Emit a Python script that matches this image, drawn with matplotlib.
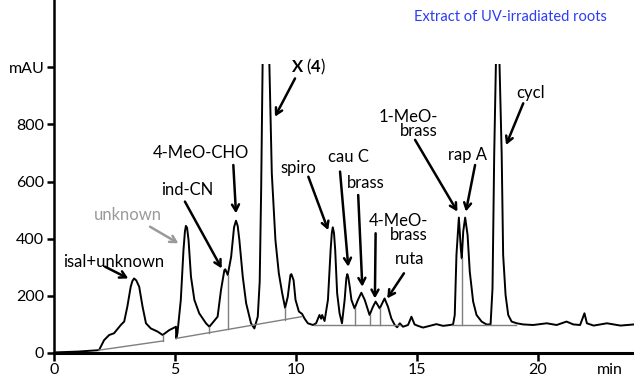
import matplotlib.pyplot as plt
from matplotlib.patches import Rectangle
import numpy as np

# HPLC trace, retention time (min) vs absorbance (mAU)
trace_t = [0.0, 1.0, 1.86, 2.07, 2.28, 2.48, 2.76, 2.90, 3.03, 3.17, 3.24, 3.31, 3.40,
           3.52, 3.66, 3.80, 4.00, 4.28, 4.49, 4.76, 5.04, 5.05, 5.10, 5.24, 5.35, 5.41,
           5.45, 5.50, 5.56, 5.66, 5.80, 6.00, 6.28, 6.42, 6.76, 6.90, 7.04, 7.08, 7.18,
           7.32, 7.44, 7.52, 7.59, 7.66, 7.80, 7.94, 8.14, 8.28, 8.42, 8.50, 8.56, 8.62,
           8.76, 8.90, 9.00, 9.15, 9.29, 9.43, 9.55, 9.66, 9.77, 9.81, 9.90, 9.98, 10.12,
           10.25, 10.35, 10.49, 10.70, 10.83, 10.97, 11.04, 11.08, 11.18, 11.32, 11.43,
           11.48, 11.52, 11.57, 11.62, 11.70, 11.80, 11.90, 12.01, 12.08, 12.12, 12.16,
           12.22, 12.29, 12.42, 12.56, 12.70, 12.84, 13.04, 13.18, 13.29, 13.46, 13.66,
           13.80, 13.94, 14.08, 14.18, 14.29, 14.42, 14.63, 14.77, 14.90, 15.04, 15.25,
           15.53, 15.80, 16.08, 16.36, 16.49, 16.56, 16.63, 16.73, 16.81, 16.85, 16.91,
           16.99, 17.09, 17.18, 17.32, 17.46, 17.67, 17.87, 18.04, 18.12, 18.19, 18.26,
           18.33, 18.41, 18.50, 18.56, 18.66, 18.77, 18.91, 19.12, 19.39, 19.80, 20.36,
           20.77, 21.18, 21.46, 21.74, 21.92, 22.02, 22.30, 22.85, 23.41, 23.97]
trace_mau = [2, 5, 10, 45, 63, 69, 98, 110, 162, 232, 252, 261, 254,
             232, 162, 104, 86, 75, 63, 80, 92, 51, 69, 186, 360, 425,
             445, 438, 395, 267, 186, 139, 104, 92, 127, 220, 290, 293, 273,
             337, 440, 463, 445, 395, 267, 174, 104, 86, 127, 250, 570, 1010,
             1700, 1010, 629, 395, 279, 209, 158, 197, 273, 276, 255, 186, 145,
             137, 121, 104, 98, 104, 133, 120, 133, 112, 186, 360,
             420, 440, 420, 360, 209, 139, 104, 186, 262, 276, 265,
             232, 186, 156, 186, 211, 186, 133, 162, 180, 156, 191,
             162, 121, 98, 90, 104, 92, 98, 127, 100, 95, 89,
             95, 101, 95, 98, 100, 133, 343, 474, 366, 331, 425,
             474, 413, 285, 180, 133, 110, 100, 100, 226, 693, 1010,
             1500, 1010, 693, 343, 203, 133, 110, 104, 100, 98, 104,
             98, 110, 100, 98, 139, 104, 96, 104, 96, 100]

# integration baselines and peak drop lines
base_t = [[1.86, 4.49], [5.04, 10.22], [10.75, 14.30], [16.45, 19.10]]
base_mau = [[10, 42], [51, 127], [98, 98], [98, 98]]
drop_t = [4.49, 6.42, 7.18, 9.55, 12.42, 13.04, 13.46, 16.85]

# peak labels
labels = ['isal+unknown', 'unknown', 'ind-CN', '4-MeO-CHO', r'$\mathbf{X}$ ($\mathbf{4}$)',
          'spiro', 'cau C', 'brass', '4-MeO-\nbrass', 'ruta', '1-MeO-\nbrass', 'rap A', 'cycl']

label_xy = [(2.48, 318), (3.06, 483), (5.50, 570), (6.07, 700), (10.50, 1001),
            (10.08, 648), (12.15, 686), (12.89, 595), (15.45, 438), (14.71, 329),
            (15.87, 802), (17.07, 693), (19.71, 910)]
label_ha = ['center'] * 8 + ['right', 'center', 'right', 'center', 'center']
arrow_tail = [(2.11, 302), (3.97, 442), (5.41, 530), (7.41, 658), (9.96, 961),
              (10.51, 617), (11.82, 635), (12.57, 553), (13.29, 419), (14.46, 279),
              (14.92, 746), (17.40, 658), (19.39, 874)]
arrow_head = [(3.07, 261), (5.14, 384), (6.93, 296), (7.52, 489), (9.13, 827),
              (11.33, 430), (12.16, 302), (12.74, 232), (13.26, 191), (13.77, 191),
              (16.67, 495), (17.02, 495), (18.68, 728)]

plt.rcParams['font.family'] = 'Lato'
plt.rcParams['mathtext.fontset'] = 'custom'
plt.rcParams['mathtext.rm'] = 'Lato'
plt.rcParams['mathtext.bf'] = 'Lato:bold'

fig = plt.figure(figsize=(6.34, 3.79), dpi=100)
ax = fig.add_axes([54 / 634, 26 / 379, 580 / 634, 353 / 379])
ax.set_xlim(0, 580 / 24.2)
ax.set_ylim(0, 353 / 0.2857)

line, = ax.plot(trace_t, trace_mau, color='black', lw=1.4)
# off-scale peaks are cut at ~1000 mAU
line.set_clip_path(Rectangle((0, -50), 30, 1060, transform=ax.transData))

for bt, bm in zip(base_t, base_mau):
    ax.plot(bt, bm, color='#7f7f7f', lw=1.0)
for d in drop_t:
    lo = None
    for bt, bm in zip(base_t, base_mau):
        if bt[0] <= d <= bt[1]:
            lo = np.interp(d, bt, bm)
    hi = np.interp(d, trace_t, trace_mau)
    ax.plot([d, d], [lo, hi], color='#7f7f7f', lw=1.0)

for i, txt in enumerate(labels):
    c = '#9a9a9a' if txt == 'unknown' else 'black'
    ax.text(*label_xy[i], txt, ha=label_ha[i], va='center', fontsize=12, color=c,
            linespacing=0.85, multialignment='right')
    ax.annotate('', xy=arrow_head[i], xytext=arrow_tail[i],
                arrowprops=dict(arrowstyle='->,head_length=0.45,head_width=0.25',
                                lw=1.8, color=c, shrinkA=0, shrinkB=0))

ax.spines[['top', 'right']].set_visible(False)
ax.spines['left'].set_linewidth(1.8)
ax.spines['bottom'].set_linewidth(2.2)
ax.set_xticks([0, 5, 10, 15, 20])
ax.set_yticks([0, 200, 400, 600, 800, 1000])
ax.set_yticklabels(['0', '200', '400', '600', '800', 'mAU'])
ax.tick_params(axis='both', direction='out', length=5, width=1.8, labelsize=11.5, pad=2)
ax.tick_params(axis='x', length=6, pad=1)

fig.text(610 / 634, 1 - 370 / 379, 'min', fontsize=11.5, ha='center', va='center')
fig.text(510 / 634, 1 - 17 / 379, 'Extract of UV-irradiated roots', fontsize=10.5,
         color='#2b3cf5', ha='center', va='center')

fig.savefig('out.png', dpi=100)
